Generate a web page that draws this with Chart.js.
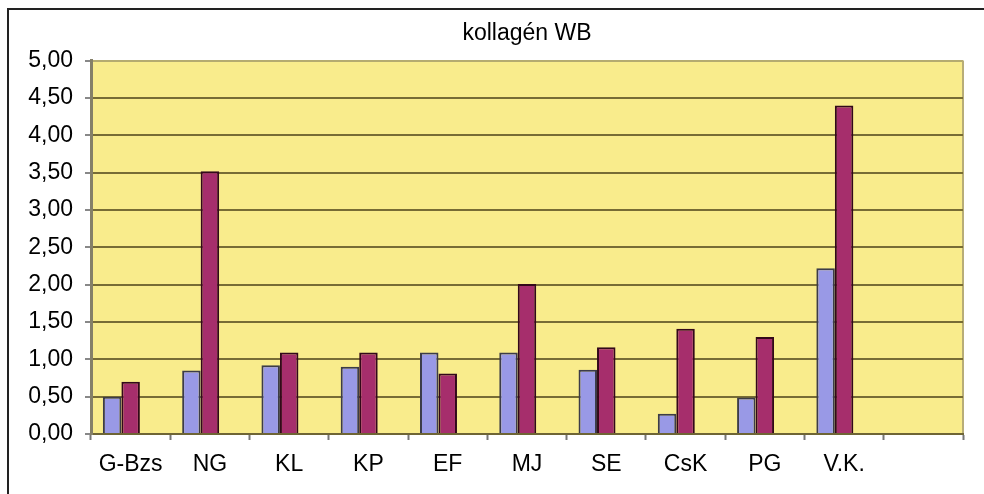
<!DOCTYPE html>
<html>
<head>
<meta charset="utf-8">
<script src="https://cdn.jsdelivr.net/npm/chart.js@4"></script>
<style>
  html, body { margin: 0; padding: 0; background: #fff; }
  #wrap { position: relative; width: 984px; height: 494px; }
  #frame { position: absolute; left: 7px; top: 8px; right: 0; bottom: 0;
           border-left: 2px solid #222; border-top: 2px solid #222; pointer-events: none; }
</style>
</head>
<body>
<div id="wrap">
  <canvas id="chart" width="984" height="494"></canvas>
  <div id="frame"></div>
</div>
<script>
// kategóriák (az utolsó üres oszlop az eredetiben is ott van)
const categories = ['G-Bzs', 'NG', 'KL', 'KP', 'EF', 'MJ', 'SE', 'CsK', 'PG', 'V.K.', ''];
const series1 = [0.50, 0.85, 0.92, 0.90, 1.09, 1.09, 0.86, 0.27, 0.49, 2.22, null];
const series2 = [0.70, 3.52, 1.09, 1.09, 0.81, 2.01, 1.16, 1.41, 1.30, 4.40, null];
const series3 = [null, null, null, null, null, null, null, null, null, null, null];
const yTicks = [0, 0.5, 1, 1.5, 2, 2.5, 3, 3.5, 4, 4.5, 5];

const fontFamily = '"Liberation Sans", Arial, sans-serif';

// sárga háttér a rajzterületnek
const plotBg = {
  id: 'plotBg',
  beforeDraw(chart) {
    const { ctx, chartArea: a } = chart;
    ctx.save();
    ctx.fillStyle = '#F9EC8C';
    ctx.fillRect(a.left, a.top, a.right - a.left, a.bottom - a.top);
    ctx.strokeStyle = '#b8ad78';
    ctx.lineWidth = 2;
    ctx.beginPath();
    ctx.moveTo(a.right, a.top);
    ctx.lineTo(a.right, a.bottom);
    ctx.stroke();
    ctx.restore();
  }
};

const ctx = document.getElementById('chart').getContext('2d');
new Chart(ctx, {
  type: 'bar',
  data: {
    labels: categories,
    datasets: [
      { label: '1', data: series1, backgroundColor: '#9999E6', borderColor: '#3c3c48', borderWidth: 2 },
      { label: '2', data: series2, backgroundColor: '#A62E6C', borderColor: '#33081a', borderWidth: 2 },
      { label: '3', data: series3, backgroundColor: '#ffffff', borderWidth: 0 }
    ]
  },
  options: {
    responsive: false,
    animation: false,
    layout: { padding: { left: 0, right: 21, top: 0, bottom: 0 } },
    datasets: { bar: { categoryPercentage: 0.7, barPercentage: 1.0 } },
    plugins: {
      legend: { display: false },
      tooltip: { enabled: false },
      title: {
        display: true,
        text: 'kollagén WB',
        fullSize: false,
        color: '#000',
        font: { family: fontFamily, size: 23, weight: 'normal', lineHeight: 1.2 },
        padding: { top: 20, bottom: 13 }
      }
    },
    scales: {
      x: {
        afterFit: s => { s.height = 60; },
        grid: {
          offset: true,
          drawOnChartArea: false,
          drawTicks: true,
          tickLength: 6,
          tickWidth: 2,
          tickColor: '#777'
        },
        border: { display: true, color: '#6e6535', width: 2 },
        ticks: {
          color: '#000',
          padding: 11,
          maxRotation: 0,
          autoSkip: false,
          font: { family: fontFamily, size: 23 }
        }
      },
      y: {
        min: 0,
        max: 5,
        afterFit: s => { s.width = 91; },
        afterBuildTicks: s => { s.ticks = yTicks.map(v => ({ value: v })); },
        grid: {
          color: c => (c.tick && c.tick.value === 5 ? '#b5ab70' : '#776c35'),
          lineWidth: 2,
          tickLength: 6,
          tickColor: '#888'
        },
        border: { display: true, color: '#858068', width: 3 },
        ticks: {
          color: '#000',
          padding: 12,
          font: { family: fontFamily, size: 23 },
          callback: v => Number(v).toFixed(2).replace('.', ',')
        }
      }
    }
  },
  plugins: [plotBg]
});
</script>
</body>
</html>
